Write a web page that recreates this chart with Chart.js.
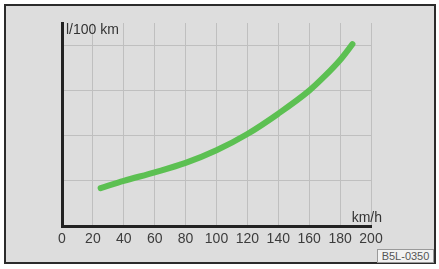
<!DOCTYPE html>
<html>
<head>
<meta charset="utf-8">
<script src="https://cdn.jsdelivr.net/npm/chart.js@4/dist/chart.umd.min.js"></script>
<style>
  body { margin: 0; background: #fff; }
  #frame {
    position: absolute; left: 4px; top: 4px; width: 432px; height: 260px;
    box-sizing: border-box; border: 2px solid #2b2b2b; background: #dddddd;
  }
  #chart { position: absolute; left: 0; top: 0; }
  #code {
    position: absolute; left: 377px; top: 249px; width: 57px; height: 14px;
    box-sizing: border-box; border: 1px solid #9a9a9a; background: #f2f2f2;
    font: 11px "Liberation Sans", Arial, sans-serif; color: #555;
    text-align: center; line-height: 12px;
  }
</style>
</head>
<body>
<div id="frame"></div>
<canvas id="chart" width="439" height="269"></canvas>
<div id="code">B5L-0350</div>
<script>
// speed (km/h) vs. consumption (grid units, unlabelled in the original)
const speeds = [25, 40, 60, 80, 100, 120, 140, 160, 170, 180, 188];
const consumption = [0.84, 1.0, 1.19, 1.4, 1.68, 2.04, 2.49, 3.0, 3.32, 3.68, 4.03];
const xTitle = 'km/h';
const yTitle = 'l/100 km';

const points = speeds.map((s, i) => ({ x: s, y: consumption[i] }));
const font = '"Liberation Sans", Arial, sans-serif';

const axisTitles = {
  id: 'axisTitles',
  afterDraw(chart) {
    const { ctx, chartArea } = chart;
    ctx.save();
    ctx.font = '14px ' + font;
    ctx.fillStyle = '#333';
    ctx.textBaseline = 'alphabetic';
    ctx.textAlign = 'left';
    ctx.fillText(yTitle, chartArea.left + 4, chartArea.top + 11);
    ctx.textAlign = 'right';
    ctx.fillText(xTitle, chartArea.right + 11, chartArea.bottom - 4);
    ctx.restore();
  },
};

new Chart(document.getElementById('chart'), {
  type: 'line',
  data: {
    datasets: [{
      data: points,
      borderColor: '#5cc052',
      borderWidth: 6,
      borderCapStyle: 'round',
      cubicInterpolationMode: 'monotone',
      pointRadius: 0,
    }, {
      data: points,
      borderColor: '#86d978',
      borderWidth: 2,
      borderCapStyle: 'round',
      cubicInterpolationMode: 'monotone',
      pointRadius: 0,
    }],
  },
  options: {
    responsive: false,
    animation: false,
    layout: { padding: { left: 62, top: 23, right: 68, bottom: 0 } },
    plugins: { legend: { display: false }, tooltip: { enabled: false } },
    scales: {
      x: {
        type: 'linear',
        min: 0,
        max: 200,
        afterFit: (s) => { s.height = 43; },
        ticks: { stepSize: 20, color: '#3c3c3c', padding: 5, font: { size: 14, family: font } },
        grid: { color: '#bfbfbf', lineWidth: 1, drawTicks: false },
        border: { color: '#222', width: 3 },
      },
      y: {
        min: 0,
        max: 4.5,
        afterFit: (s) => { s.width = 0; },
        ticks: { display: false, stepSize: 1 },
        grid: {
          drawTicks: false,
          lineWidth: 1,
          color: (c) => (Number.isInteger(c.tick.value) && c.tick.value > 0 ? '#bfbfbf' : 'transparent'),
        },
        border: { color: '#222', width: 3 },
      },
    },
  },
  plugins: [axisTitles],
});
</script>
</body>
</html>
